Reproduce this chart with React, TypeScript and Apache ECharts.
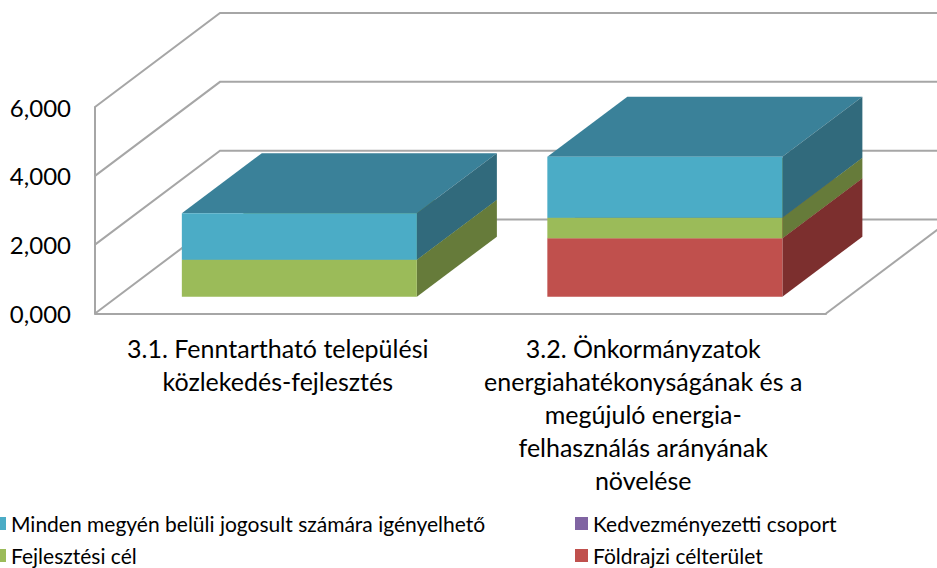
import React, { useEffect, useRef } from "react";
import * as echarts from "echarts";

const categories = [
  "3.1. Fenntartható települési\nközlekedés-fejlesztés",
  "3.2. Önkormányzatok\nenergiahatékonyságának és a\nmegújuló energia-\nfelhasználás arányának\nnövelése",
];
const foldrajzi = [0, 1700];
const fejlesztesi = [1075, 595];
const kedvezmenyezetti = [0, 0];
const minden = [1350, 1770];
const yTicks = [0, 2000, 4000, 6000];
const yTickLabels = ["0,000", "2,000", "4,000", "6,000"];

const FONT = "Lato";
const WALL_DX = 125;
const WALL_DY = -94;
const BAR_DX = 80;
const BAR_DY = -60;
const GAP_DX = 22.6;
const GAP_DY = -16.8;
const BAR_FRAC = 0.643;
const GRID_COLOR = "#A6A6A6";

const stackDefs = [
  { name: "Földrajzi célterület", values: foldrajzi, front: "#C0504D", top: "#9A403D", side: "#7C2F2E" },
  { name: "Fejlesztési cél", values: fejlesztesi, front: "#9BBB59", top: "#7C9647", side: "#667B3A" },
  { name: "Kedvezményezetti csoport", values: kedvezmenyezetti, front: "#8064A2", top: "#665082", side: "#54426B" },
  { name: "Minden megyén belüli jogosult számára igényelhető", values: minden, front: "#4BACC6", top: "#3A8199", side: "#316A7C" },
];

function buildOption() {
  const running = categories.map(() => 0);
  const barSeries = stackDefs.map((def) => {
    const data = def.values.map((v, i) => {
      const base = running[i];
      running[i] += v;
      return [i, base, running[i]];
    });
    return {
      type: "custom",
      name: def.name,
      clip: false,
      silent: true,
      z: 5,
      itemStyle: { color: def.front },
      encode: { x: 0, y: [1, 2] },
      data,
      renderItem: (_p: any, api: any) => {
        const cat = api.value(0);
        const b = api.value(1);
        const t = api.value(2);
        if (t <= b) return null;
        const band = api.size([1, 0])[0];
        const w = band * BAR_FRAC;
        const c0 = api.coord([cat, b]);
        const c1 = api.coord([cat, t]);
        const x0 = c0[0] - w / 2 + GAP_DX - 1;
        const x1 = x0 + w;
        const yb = c0[1] + GAP_DY;
        const yt = c1[1] + GAP_DY;
        return {
          type: "group",
          children: [
            {
              type: "polygon",
              shape: { points: [[x0, yt], [x1, yt], [x1 + BAR_DX, yt + BAR_DY], [x0 + BAR_DX, yt + BAR_DY]] },
              style: { fill: def.top },
            },
            {
              type: "polygon",
              shape: { points: [[x1, yb], [x1 + BAR_DX, yb + BAR_DY], [x1 + BAR_DX, yt + BAR_DY], [x1, yt]] },
              style: { fill: def.side },
            },
            {
              type: "rect",
              shape: { x: x0, y: yt, width: w, height: yb - yt },
              style: { fill: def.front },
            },
          ],
        };
      },
    };
  });

  const wallSeries = {
    type: "custom",
    silent: true,
    clip: false,
    z: 1,
    data: yTicks.map((v) => [v]),
    encode: { y: 0 },
    renderItem: (p: any, api: any) => {
      const v = api.value(0);
      const y = api.coord([0, v])[1];
      const left = p.coordSys.x;
      const right = left + p.coordSys.width;
      const style = { stroke: GRID_COLOR, lineWidth: 2, fill: "none" };
      const children: any[] = [
        {
          type: "polyline",
          shape: { points: [[left, y], [left + WALL_DX, y + WALL_DY], [right + WALL_DX, y + WALL_DY]] },
          style,
        },
      ];
      if (v === yTicks[0]) {
        children.push({
          type: "line",
          shape: { x1: right, y1: y, x2: right + WALL_DX, y2: y + WALL_DY },
          style,
        });
      }
      return { type: "group", children };
    },
  };

  const legendCommon = {
    orient: "vertical",
    itemWidth: 13,
    itemHeight: 13,
    itemGap: 11,
    icon: "rect",
    padding: 0,
    selectedMode: false,
    textStyle: { fontFamily: FONT, fontSize: 21, color: "#000" },
  };

  return {
    animation: false,
    backgroundColor: "#fff",
    grid: { left: 95, right: 111, top: 107, bottom: 254.5 },
    xAxis: {
      type: "category",
      data: categories,
      axisLine: { show: true, lineStyle: { color: GRID_COLOR, width: 2 } },
      axisTick: { show: false },
      axisLabel: {
        interval: 0,
        fontFamily: FONT,
        fontSize: 25,
        lineHeight: 33,
        color: "#000",
        margin: 18,
        align: "center",
      },
    },
    yAxis: {
      type: "value",
      min: 0,
      max: 6000,
      interval: 2000,
      axisLine: { show: true, lineStyle: { color: GRID_COLOR, width: 2 } },
      axisTick: { show: false },
      splitLine: { show: false },
      axisLabel: {
        fontFamily: FONT,
        fontSize: 24,
        color: "#000",
        margin: 24,
        formatter: (v: number) => yTickLabels[yTicks.indexOf(v)],
      },
    },
    legend: [
      { ...legendCommon, left: -7, top: 513, data: [stackDefs[3].name, stackDefs[1].name] },
      { ...legendCommon, left: 575, top: 513, data: [stackDefs[2].name, stackDefs[0].name] },
    ],
    series: [wallSeries, ...barSeries],
  };
}

export default function App() {
  const ref = useRef<HTMLDivElement>(null);
  useEffect(() => {
    const chart = echarts.init(ref.current!, null, { renderer: "svg" });
    chart.setOption(buildOption() as any);
    return () => chart.dispose();
  }, []);
  return <div ref={ref} style={{ position: "absolute", left: 0, top: 0, width: 937, height: 568 }} />;
}
